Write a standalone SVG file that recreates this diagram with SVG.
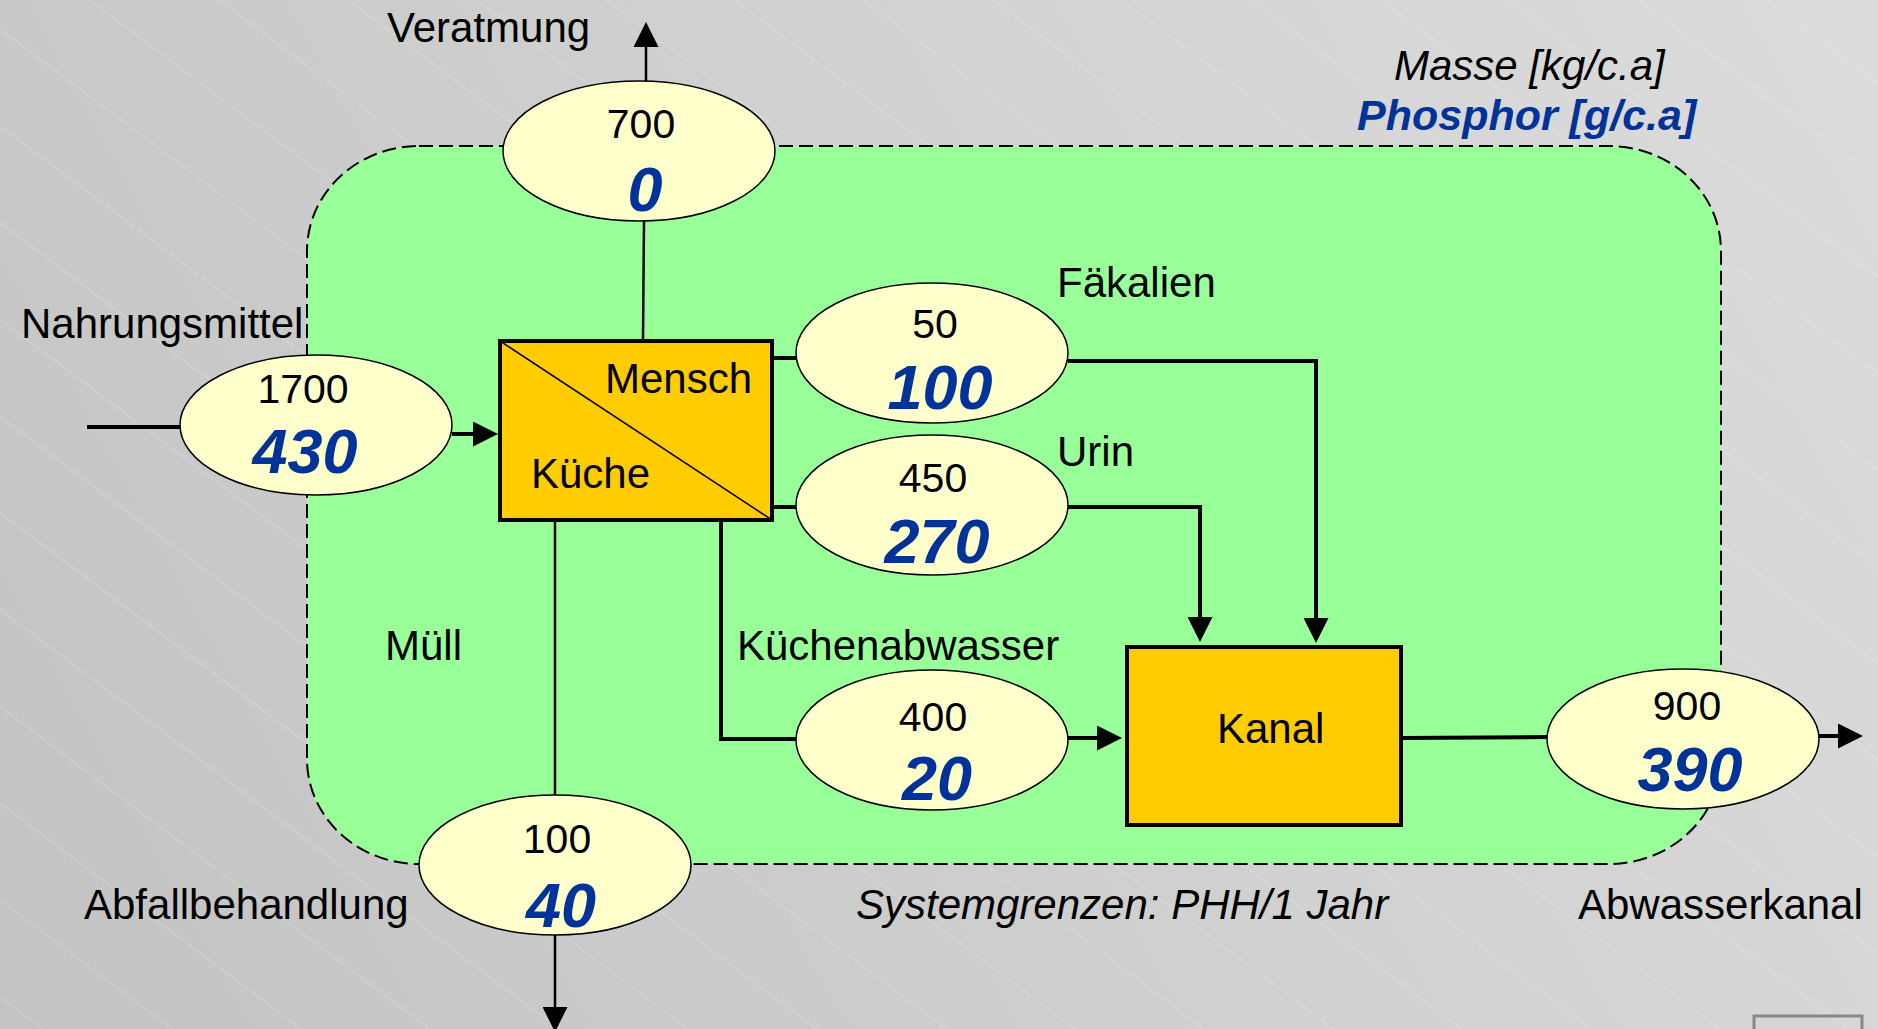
<svg xmlns="http://www.w3.org/2000/svg" width="1878" height="1029" viewBox="0 0 1878 1029">
  <defs>
    <linearGradient id="bg" gradientUnits="userSpaceOnUse" x1="0" y1="1029" x2="1878" y2="0">
      <stop offset="0" stop-color="#C3C3C3"/>
      <stop offset="1" stop-color="#DCDCDC"/>
    </linearGradient>
    <pattern id="hatch" patternUnits="userSpaceOnUse" x="90" y="0" width="129" height="96.75">
      <line x1="0" y1="0" x2="129" y2="96.75" stroke="#FFFFFF" stroke-opacity="0.22" stroke-width="1"/>
    </pattern>
    <marker id="arrow" viewBox="0 0 25 25" markerWidth="25" markerHeight="25" markerUnits="userSpaceOnUse" refX="10" refY="12.5" orient="auto">
      <path d="M0,0 L25,12.5 L0,25 Z" fill="#000"/>
    </marker>
    <style>
      .lbl { font-family: "Liberation Sans", Arial, sans-serif; font-size: 42px; fill: #000; }
      .num { font-family: "Liberation Sans", Arial, sans-serif; font-size: 41px; fill: #000; text-anchor: middle; }
      .p { font-family: "Liberation Sans", Arial, sans-serif; font-size: 63px; font-weight: bold; font-style: italic; fill: #003399; text-anchor: middle; }
      .it { font-style: italic; }
      .flow { fill: #FFFFCC; stroke: #000; stroke-width: 1.5; }
      .proc { fill: #FFCC00; stroke: #000; stroke-width: 4; }
      .thick { fill: none; stroke: #000; stroke-width: 4; }
      .thin { fill: none; stroke: #000; stroke-width: 2.5; }
    </style>
  </defs>

  <!-- background -->
  <rect width="1878" height="1029" fill="url(#bg)"/>
  <rect width="1878" height="1029" fill="url(#hatch)"/>
  <rect x="1754" y="1016" width="108" height="40" fill="none" stroke="#888888" stroke-width="3"/>

  <!-- system boundary -->
  <g id="system-boundary">
    <rect x="307" y="146" width="1414" height="718" rx="112" ry="105" fill="#99FF99" stroke="#000" stroke-width="2" stroke-dasharray="14 6"/>
  </g>

  <!-- connectors -->
  <g id="connectors">
    <line class="thick" x1="87" y1="427" x2="181" y2="427"/>
    <line class="thick" x1="452" y1="434" x2="483" y2="434" marker-end="url(#arrow)"/>
    <line class="thin" x1="643" y1="339" x2="644" y2="220"/>
    <line class="thin" x1="646" y1="82" x2="646" y2="37" marker-end="url(#arrow)"/>
    <line class="thick" x1="773" y1="358" x2="797" y2="358"/>
    <polyline class="thick" points="1068,361 1316,361 1316,628" marker-end="url(#arrow)"/>
    <line class="thick" x1="773" y1="507" x2="797" y2="507"/>
    <polyline class="thick" points="1068,507 1200,507 1200,627" marker-end="url(#arrow)"/>
    <polyline class="thick" points="721,520 721,739 797,739"/>
    <line class="thick" x1="1068" y1="738" x2="1107" y2="738" marker-end="url(#arrow)"/>
    <line class="thin" x1="555" y1="520" x2="555" y2="796"/>
    <line class="thin" x1="555" y1="934" x2="555" y2="1017" marker-end="url(#arrow)"/>
    <line class="thick" x1="1402" y1="738" x2="1548" y2="737"/>
    <line class="thick" x1="1818" y1="736" x2="1848" y2="736" marker-end="url(#arrow)"/>
  </g>

  <!-- processes -->
  <g id="mensch-kueche">
    <rect class="proc" x="500" y="341" width="272" height="179"/>
    <line x1="500" y1="341" x2="772" y2="520" stroke="#000" stroke-width="1.5"/>
    <text class="lbl" x="605" y="393">Mensch</text>
    <text class="lbl" x="531" y="488">Küche</text>
  </g>
  <g id="kanal">
    <rect class="proc" x="1127" y="647" width="274" height="178"/>
    <text class="lbl" x="1217" y="743">Kanal</text>
  </g>

  <!-- flows -->
  <g id="flow-veratmung">
    <ellipse class="flow" cx="639" cy="151" rx="136" ry="70"/>
    <text class="num" x="641" y="138">700</text>
    <text class="p" x="645" y="211">0</text>
    <text class="lbl" x="387" y="42">Veratmung</text>
  </g>
  <g id="flow-nahrungsmittel">
    <ellipse class="flow" cx="316" cy="425" rx="136" ry="70"/>
    <text class="num" x="303" y="403">1700</text>
    <text class="p" x="305" y="473">430</text>
    <text class="lbl" x="21" y="338">Nahrungsmittel</text>
  </g>
  <g id="flow-faekalien">
    <ellipse class="flow" cx="932" cy="353" rx="136" ry="70"/>
    <text class="num" x="935" y="338">50</text>
    <text class="p" x="940" y="409">100</text>
    <text class="lbl" x="1057" y="297">Fäkalien</text>
  </g>
  <g id="flow-urin">
    <ellipse class="flow" cx="932" cy="505" rx="136" ry="70"/>
    <text class="num" x="933" y="492">450</text>
    <text class="p" x="937" y="563">270</text>
    <text class="lbl" x="1057" y="466">Urin</text>
  </g>
  <g id="flow-kuechenabwasser">
    <ellipse class="flow" cx="932" cy="740" rx="136" ry="70"/>
    <text class="num" x="933" y="731">400</text>
    <text class="p" x="937" y="800">20</text>
    <text class="lbl" x="737" y="660">Küchenabwasser</text>
  </g>
  <g id="flow-muell">
    <ellipse class="flow" cx="555" cy="865" rx="136" ry="70"/>
    <text class="num" x="557" y="853">100</text>
    <text class="p" x="561" y="927">40</text>
    <text class="lbl" x="385" y="660">Müll</text>
    <text class="lbl" x="84" y="919">Abfallbehandlung</text>
  </g>
  <g id="flow-abwasser">
    <ellipse class="flow" cx="1683" cy="739" rx="136" ry="70"/>
    <text class="num" x="1687" y="720">900</text>
    <text class="p" x="1690" y="791">390</text>
    <text class="lbl" x="1578" y="919">Abwasserkanal</text>
  </g>

  <!-- legend and caption -->
  <g id="legend">
    <text class="lbl it" x="1394" y="80" font-size="41">Masse [kg/c.a]</text>
    <text class="lbl" x="1357" y="130" style="font-size:43px;font-weight:bold;font-style:italic;fill:#003399">Phosphor [g/c.a]</text>
    <text class="lbl it" x="856" y="919">Systemgrenzen: PHH/1 Jahr</text>
  </g>
</svg>
